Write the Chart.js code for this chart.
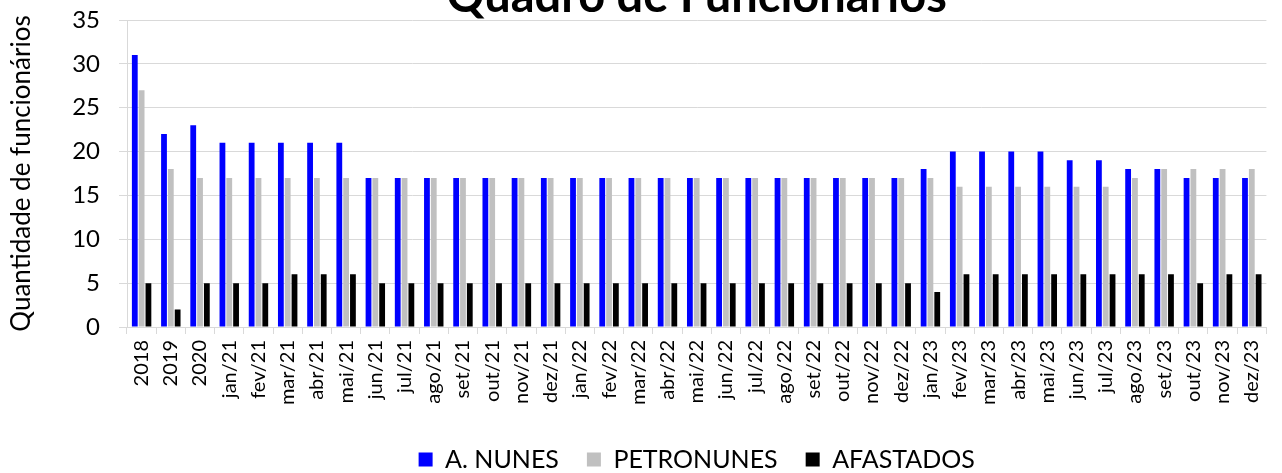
<!DOCTYPE html>
<html>
<head>
<meta charset="utf-8">
<script src="https://cdn.jsdelivr.net/npm/chart.js@4.4.1/dist/chart.umd.min.js"></script>
<style>
  html, body { margin: 0; padding: 0; background: #fff; overflow: hidden; width: 1282px; height: 473px; }
  #wrap { position: absolute; left: 0; top: -30px; width: 1282px; height: 512px; }
</style>
</head>
<body>
<div id="wrap"><canvas id="quadroChart" width="1282" height="512"></canvas></div>
<script>
// categories: years then months
const labels = [
    "2018", "2019", "2020",
    "jan/21", "fev/21", "mar/21", "abr/21", "mai/21", "jun/21", "jul/21", "ago/21", "set/21", "out/21", "nov/21", "dez/21",
    "jan/22", "fev/22", "mar/22", "abr/22", "mai/22", "jun/22", "jul/22", "ago/22", "set/22", "out/22", "nov/22", "dez/22",
    "jan/23", "fev/23", "mar/23", "abr/23", "mai/23", "jun/23", "jul/23", "ago/23", "set/23", "out/23", "nov/23", "dez/23"
];

const aNunes = [
    31, 22, 23,
    21, 21, 21, 21, 21, 17, 17, 17, 17, 17, 17, 17,
    17, 17, 17, 17, 17, 17, 17, 17, 17, 17, 17, 17,
    18, 20, 20, 20, 20, 19, 19, 18, 18, 17, 17, 17
];

const petronunes = [
    27, 18, 17,
    17, 17, 17, 17, 17, 17, 17, 17, 17, 17, 17, 17,
    17, 17, 17, 17, 17, 17, 17, 17, 17, 17, 17, 17,
    17, 16, 16, 16, 16, 16, 16, 17, 18, 18, 18, 18
];

const afastados = [
    5, 2, 5,
    5, 5, 6, 6, 6, 5, 5, 5, 5, 5, 5, 5,
    5, 5, 5, 5, 5, 5, 5, 5, 5, 5, 5, 5,
    4, 6, 6, 6, 6, 6, 6, 6, 6, 5, 6, 6
];

const yTicks = [0, 5, 10, 15, 20, 25, 30, 35];

const FONT = "Lato";
const GRID = "#d9d9d9";

function _dataset(label, data, color) {
    return {
        label: label,
        data: data,
        backgroundColor: color,
        borderWidth: 0,
        categoryPercentage: 0.7,
        barPercentage: 0.85,
    };
}

function _build_config() {
    return {
        type: "bar",
        data: {
            labels: labels,
            datasets: [
                _dataset("A. NUNES", aNunes, "#0000ff"),
                _dataset("PETRONUNES", petronunes, "#c0c0c0"),
                _dataset("AFASTADOS", afastados, "#000000"),
            ],
        },
        options: {
            responsive: false,
            animation: false,
            layout: { padding: { left: 0, right: 7, top: 0, bottom: 0 } },
            plugins: {
                tooltip: { enabled: false },
                title: {
                    display: true,
                    text: "Quadro de Funcionários",
                    fullSize: false,
                    color: "#000",
                    font: { family: FONT, size: 47, weight: "bold", lineHeight: 1.0 },
                    padding: { top: 3, bottom: 0 },
                },
                legend: {
                    position: "bottom",
                    fullSize: false,
                    labels: {
                        color: "#000",
                        font: { family: FONT, size: 25 },
                        boxWidth: 14,
                        boxHeight: 14,
                        padding: 28,
                    },
                },
            },
            scales: {
                x: {
                    grid: {
                        display: true,
                        drawOnChartArea: false,
                        drawTicks: true,
                        tickLength: 7,
                        color: GRID,
                        offset: true,
                    },
                    border: { color: GRID, width: 1 },
                    ticks: {
                        color: "#000",
                        font: { family: FONT, size: 20 },
                        minRotation: 90,
                        maxRotation: 90,
                        autoSkip: false,
                        padding: 6,
                    },
                    afterFit: function (scale) { scale.height = 92; },
                },
                y: {
                    min: 0,
                    max: 35,
                    afterBuildTicks: function (scale) {
                        scale.ticks = yTicks.map(v => ({ value: v }));
                    },
                    grid: {
                        color: GRID,
                        lineWidth: 1,
                        drawTicks: true,
                        tickLength: 8,
                    },
                    border: { color: GRID, width: 1 },
                    ticks: {
                        color: "#000",
                        font: { family: FONT, size: 24 },
                        padding: 19,
                    },
                    title: {
                        display: true,
                        text: "Quantidade de funcionários",
                        color: "#000",
                        font: { family: FONT, size: 26 },
                        padding: { top: 6, bottom: 0 },
                    },
                    afterFit: function (scale) { scale.width = 127; },
                },
            },
        },
    };
}

const quadroChart = new Chart("quadroChart", _build_config());
</script>
</body>
</html>
